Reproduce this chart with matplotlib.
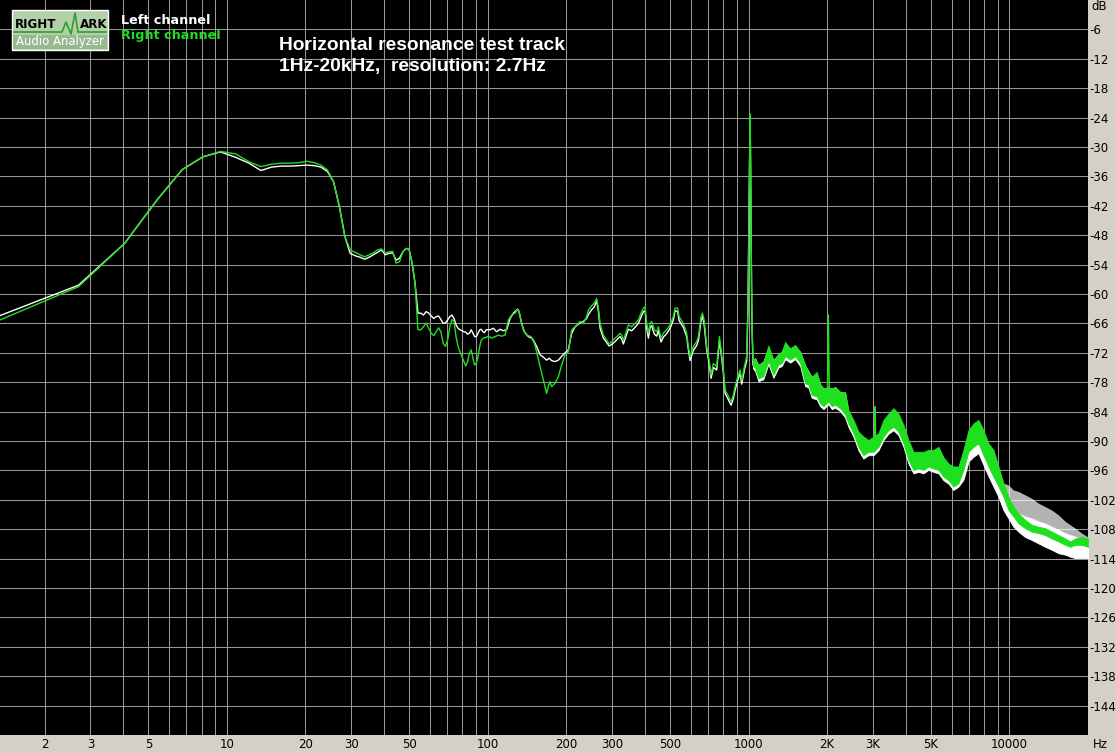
import matplotlib
matplotlib.use("Agg")
import matplotlib.pyplot as plt
from matplotlib.patches import Rectangle
from matplotlib.lines import Line2D

W, H = 1116, 753

# ---------------- data ----------------
left_freq = [1.35, 2.7, 4.05, 5.4, 6.75, 8.1, 9.45, 10.8, 12.15, 13.5, 14.85, 16.2, 17.55, 18.9,
             20.25, 21.6, 22.95, 24.3, 25.65, 27.0, 28.35, 29.7, 31.05, 32.4, 33.75, 35.1, 36.45,
             37.8, 39.15, 40.5, 41.85, 43.2, 44.55, 45.9, 47.25, 48.6, 49.95, 51.3, 52.65, 54.0,
             55.35, 56.7, 58.05, 59.4, 60.75, 62.1, 63.45, 64.8, 66.15, 67.5, 68.85, 70.2, 71.55,
             72.9, 74.25, 75.6, 76.95, 78.3, 79.65, 81.0, 82.35, 83.7, 85.05, 86.4, 87.75, 89.1,
             90.45, 91.8, 93.15, 94.5, 95.85, 97.2, 98.55, 102.0, 105.1, 108.2, 111.5, 114.8,
             118.2, 121.8, 125.4, 130.2, 131.8, 134.9, 138.1, 143.1, 147.3, 149.5, 154.0, 158.7,
             163.4, 168.2, 171.8, 175.8, 181.1, 186.5, 192.0, 197.9, 203.7, 209.8, 216.1, 225.9,
             232.6, 239.4, 243.1, 250.3, 256.3, 261.6, 265.6, 269.6, 277.5, 285.7, 291.8, 298.6,
             307.7, 316.8, 321.6, 326.2, 331.1, 338.0, 346.0, 356.3, 367.1, 377.9, 387.0, 395.0,
             401.0, 406.7, 412.9, 419.1, 425.1, 435.3, 444.2, 450.9, 461.8, 471.2, 485.1, 500.0,
             514.7, 522.5, 534.6, 541.3, 562.3, 578.9, 587.7, 596.6, 614.2, 632.4, 642.0, 657.6,
             665.2, 675.2, 690.9, 705.7, 718.2, 732.8, 754.6, 772.9, 784.5, 800.6, 812.7, 831.6,
             856.9, 874.4, 887.6, 908.2, 927.6, 940.8, 963.5, 983.3, 995, 1003, 1008, 1013, 1018,
             1023, 1030, 1040]
left_db = [-64.4, -58.2, -49.7, -40.8, -34.6, -32.0, -31.0, -32.1, -33.3, -34.8, -34.1, -33.9, -33.9,
           -33.8, -33.7, -33.8, -34.1, -35.0, -37.1, -42.2, -48.3, -51.7, -52.2, -52.5, -52.9, -52.5,
           -52.0, -51.5, -51.0, -52.0, -51.7, -51.6, -53.1, -52.7, -51.4, -50.7, -50.9, -53.7, -57.8,
           -63.9, -63.9, -64.3, -63.6, -63.9, -64.5, -65.0, -64.6, -64.5, -65.2, -66.0, -65.9, -65.3,
           -64.6, -64.3, -65.0, -66.3, -67.0, -67.3, -67.5, -67.7, -67.8, -68.2, -68.0, -67.3, -68.0,
           -68.7, -68.7, -68.0, -67.3, -67.2, -67.7, -67.9, -67.3, -67.3, -67.0, -67.7, -67.2, -67.5,
           -67.3, -65.0, -63.9, -63.1, -63.6, -66.0, -67.7, -68.7, -69.0, -69.4, -70.7, -72.4, -72.9,
           -73.5, -73.1, -73.6, -73.8, -73.5, -72.7, -72.0, -71.4, -68.0, -66.7, -65.9, -65.6, -65.0,
           -64.2, -63.2, -62.6, -61.4, -63.5, -67.0, -69.0, -69.9, -70.6, -70.3, -69.7, -69.0, -68.7,
           -69.2, -70.2, -68.8, -67.2, -67.5, -66.8, -66.0, -64.7, -63.6, -63.4, -66.9, -69.0, -66.8,
           -66.5, -68.2, -68.6, -67.5, -69.8, -68.8, -68.1, -67.0, -65.3, -63.4, -63.6, -65.4, -66.8,
           -68.7, -71.4, -73.6, -71.5, -70.5, -69.5, -65.3, -64.6, -66.2, -71.4, -74.2, -77.2, -75.0,
           -75.5, -69.5, -72.1, -76.2, -80.3, -81.3, -82.7, -81.3, -79.6, -77.6, -76.2, -78.4, -75.5,
           -73.6, -62.0, -45.0, -34.0, -23.5, -34.0, -50.0, -66.0, -74.5]

right_freq = [1.35, 2.7, 4.05, 5.4, 6.75, 8.1, 9.45, 10.8, 12.15, 13.5, 14.85, 16.2, 17.55, 18.9,
              20.25, 21.6, 22.95, 24.3, 25.65, 27.0, 28.35, 29.7, 31.05, 32.4, 33.75, 35.1, 36.45,
              37.8, 39.15, 40.5, 41.85, 43.2, 44.55, 45.9, 47.25, 48.6, 49.95, 51.3, 52.65, 54.0,
              55.35, 56.7, 58.05, 59.4, 60.75, 62.1, 63.45, 64.8, 66.15, 67.5, 68.85, 70.2, 71.55,
              72.9, 74.25, 75.6, 76.95, 78.3, 79.65, 81.0, 82.35, 83.7, 85.05, 86.4, 87.75, 89.1,
              90.45, 91.8, 93.15, 94.5, 95.85, 97.2, 98.55, 100.5, 103.5, 106.7, 109.8, 113.1,
              116.5, 120.0, 123.5, 127.3, 130.2, 131.8, 134.9, 136.9, 141.0, 146.6, 150.9, 154.0,
              158.7, 163.4, 168.2, 170.7, 173.2, 175.8, 181.1, 186.5, 192.0, 197.9, 203.7, 209.8,
              216.1, 225.9, 232.6, 239.4, 243.1, 250.3, 256.3, 261.6, 265.6, 269.6, 277.5, 285.7,
              291.8, 298.6, 307.7, 316.8, 321.6, 326.2, 331.1, 338.0, 346.0, 356.3, 367.1, 377.9,
              387.0, 395.0, 401.0, 406.7, 412.9, 419.1, 425.1, 435.3, 444.2, 450.9, 461.8, 471.2,
              485.1, 500.0, 514.7, 522.5, 534.6, 541.3, 562.3, 578.9, 587.7, 596.6, 614.2, 632.4,
              642.0, 657.6, 665.2, 675.2, 690.9, 705.7, 718.2, 732.8, 754.6, 772.9, 784.5, 800.6,
              812.7, 831.6, 856.9, 874.4, 887.6, 908.2, 927.6, 940.8, 963.5, 983.3, 995, 1003, 1008,
              1013, 1018, 1023, 1030, 1040]
right_db = [-65.3, -58.5, -49.7, -40.8, -34.6, -32.0, -30.9, -31.4, -33.0, -34.0, -33.5, -33.3, -33.3,
            -33.2, -32.9, -33.2, -33.7, -34.7, -37.1, -42.2, -48.3, -51.0, -51.5, -52.0, -52.4, -52.0,
            -51.6, -51.0, -50.8, -51.6, -51.4, -51.3, -53.7, -53.4, -51.4, -50.7, -50.9, -53.7, -57.8,
            -67.3, -67.3, -66.7, -65.9, -67.0, -68.0, -68.5, -67.7, -66.9, -67.7, -70.1, -70.7, -69.4,
            -66.7, -65.2, -65.6, -68.7, -70.7, -71.8, -72.8, -73.8, -74.7, -73.8, -72.1, -71.4, -73.1,
            -74.5, -74.1, -72.8, -70.7, -69.4, -69.1, -68.9, -68.9, -68.6, -69.0, -68.7, -68.4, -68.6,
            -68.4, -65.3, -64.3, -63.9, -63.1, -63.6, -66.0, -67.3, -68.4, -68.7, -70.1, -71.8, -74.8,
            -77.6, -80.3, -78.9, -77.9, -78.9, -78.2, -76.9, -74.5, -72.4, -71.8, -67.3, -66.7, -65.6,
            -66.0, -64.6, -63.3, -62.4, -61.8, -60.9, -62.9, -66.0, -68.4, -69.4, -70.2, -69.7, -69.0,
            -68.4, -68.0, -68.4, -69.4, -68.0, -66.3, -66.7, -66.0, -65.3, -63.9, -62.9, -62.6, -66.0,
            -68.0, -66.0, -65.6, -67.3, -67.7, -66.7, -69.0, -68.0, -67.3, -66.3, -64.6, -62.9, -62.9,
            -64.6, -66.0, -68.0, -70.7, -72.8, -70.7, -69.7, -68.7, -64.6, -63.9, -65.3, -70.7, -73.5,
            -76.5, -74.2, -74.8, -68.7, -71.4, -75.5, -79.6, -80.6, -82.0, -80.6, -78.9, -76.9, -75.5,
            -77.6, -74.8, -72.8, -62.0, -45.0, -34.0, -23.3, -34.0, -50.0, -66.0, -73.5]

# noisy high-frequency part: envelopes of the scattered trace
band_freq = [1040, 1059, 1090, 1139, 1191, 1245, 1301, 1340, 1380, 1443, 1508, 1576, 1647, 1696,
             1746, 1825, 1880, 1936, 2023, 2083, 2146, 2243, 2344, 2413, 2522, 2636, 2755, 2880,
             3010, 3146, 3288, 3436, 3592, 3753, 3923, 4100, 4284, 4478, 4680, 4891, 5111, 5343,
             5583, 5835, 6099, 6374, 6661, 6962, 7278, 7605, 7949, 8308, 8683, 9075, 9484, 9913,
             10359, 10828, 11486, 12175, 12921, 13711, 14533, 15416, 16357, 17088, 17865, 18933,
             20000]
right_upper = [-73.4, -73.2, -74.5, -73.9, -70.5, -73.5, -72.2, -71.8, -69.8, -71.1, -70.4, -71.8,
               -74.5, -75.9, -76.9, -75.9, -78.3, -79.3, -79.0, -79.3, -79.0, -80.0, -80.0, -83.7,
               -85.7, -88.1, -89.1, -89.8, -89.1, -88.4, -85.7, -84.4, -83.3, -84.4, -86.7, -89.8,
               -92.2, -92.2, -92.2, -91.8, -91.8, -91.2, -93.3, -94.6, -95.2, -95.2, -91.8, -87.8,
               -86.4, -85.7, -87.8, -90.5, -91.8, -95.2, -98.6, -101.4, -103.4, -104.8, -106.1,
               -107.1, -107.5, -107.8, -108.5, -109.2, -109.9, -110.5, -109.9, -109.6, -109.9]
right_lower = [-74.6, -75.1, -77.2, -76.8, -73.7, -76.5, -74.4, -74.1, -72.7, -73.4, -72.7, -74.1,
               -78.2, -78.5, -80.6, -80.9, -82.3, -82.9, -81.9, -82.9, -82.6, -83.3, -84.6, -86.4,
               -88.4, -91.2, -92.9, -92.2, -92.2, -91.2, -89.1, -87.8, -87.1, -88.1, -90.5, -93.9,
               -95.9, -95.6, -95.9, -95.2, -95.6, -95.9, -97.3, -98.0, -99.3, -98.6, -95.9, -92.2,
               -91.2, -90.5, -92.9, -95.2, -97.3, -99.3, -101.4, -104.1, -105.4, -106.8, -107.8,
               -108.5, -108.8, -109.2, -109.9, -110.5, -111.2, -111.6, -111.2, -111.2, -111.6]
left_upper = [-73.5, -73.1, -74.5, -73.8, -71.0, -73.5, -72.3, -71.8, -70.2, -71.1, -70.6, -71.8,
              -74.6, -75.8, -77.0, -76.5, -78.5, -79.3, -79.1, -79.3, -79.0, -80.0, -80.2, -84.0,
              -86.2, -88.4, -89.6, -90.2, -89.6, -88.8, -86.3, -85.5, -85.0, -86.0, -88.0, -91.0,
              -93.0, -92.9, -93.0, -92.9, -92.6, -92.5, -94.3, -95.5, -96.0, -95.9, -93.3, -90.5,
              -89.5, -89.1, -90.5, -93.0, -95.0, -97.6, -100.0, -102.0, -104.1, -104.8, -105.4,
              -105.8, -106.4, -106.8, -107.5, -108.1, -108.8, -109.2, -109.5, -110.2, -110.5]
left_lower = [-75.2, -75.7, -77.8, -77.4, -74.3, -77.1, -75.0, -74.7, -73.3, -74.0, -73.3, -74.7,
              -78.8, -79.1, -81.2, -81.5, -82.9, -83.5, -82.5, -83.5, -83.2, -83.9, -85.2, -87.1,
              -89.1, -91.9, -93.6, -92.9, -92.9, -91.9, -89.8, -88.5, -87.8, -88.8, -91.2, -94.6,
              -96.6, -96.3, -96.6, -95.9, -96.3, -96.6, -98.0, -98.7, -100.0, -99.3, -97.9, -94.2,
              -93.2, -92.5, -94.9, -97.2, -99.3, -101.4, -104.1, -105.8, -107.5, -108.5, -109.6,
              -110.2, -110.9, -111.6, -112.2, -112.9, -113.2, -113.6, -113.9, -113.9, -113.9]

# sparse upward spikes of the left channel above 9 kHz
left_spike_freq = [9075, 9484, 9913, 10359, 10828, 11486, 12175, 12921, 13711, 14533, 15416,
                   16357, 17088, 17865, 18933, 20000]
left_spike_top = [-96.5, -98.6, -99.0, -100.0, -100.3, -101.0, -101.7, -102.7, -103.4, -104.1,
                  -105.1, -106.4, -107.1, -107.8, -108.8, -109.6]
left_spike_base = [-97.6, -100.0, -102.0, -104.1, -104.8, -105.4, -105.8, -106.4, -106.8, -107.5,
                   -108.1, -108.8, -109.2, -109.5, -110.2, -110.5]

# harmonic spikes (right channel)
spike2_freq = [2005, 2022, 2040]
spike2_db = [-80.0, -64.3, -80.0]
spike3_freq = [3040, 3054, 3068]
spike3_db = [-89.0, -83.0, -89.0]

x_label_freqs = [2, 3, 5, 10, 20, 30, 50, 100, 200, 300, 500, 1000, 2000, 3000, 5000, 10000]
x_labels = ["2", "3", "5", "10", "20", "30", "50", "100", "200", "300", "500", "1000",
            "2K", "3K", "5K", "10000"]
x_grid_minor = [4, 6, 7, 8, 9, 40, 60, 70, 80, 90, 400, 600, 700, 800, 900,
                4000, 6000, 7000, 8000, 9000]
y_ticks = list(range(-6, -150, -6))

# ---------------- figure ----------------
BG = "#D4D0C8"
GREEN = "#1FE01F"
GRID = "#999999"

fig = plt.figure(figsize=(W / 100, H / 100), dpi=100, facecolor=BG)
ax = fig.add_axes([0, 18 / H, 1088 / W, 735 / H])
ax.set_facecolor("black")
ax.set_xscale("log")
ax.set_xlim(1.35, 20000)
ax.set_ylim(-150, 0)
for s in ax.spines.values():
    s.set_visible(False)

ax.set_xticks(x_label_freqs)
ax.set_xticklabels(x_labels)
ax.set_xticks(x_grid_minor, minor=True)
ax.xaxis.set_minor_formatter(matplotlib.ticker.NullFormatter())
ax.set_yticks(y_ticks)
ax.set_yticklabels([str(v) for v in y_ticks])
ax.yaxis.tick_right()
ax.tick_params(axis="both", which="both", length=0, labelsize=8.5, labelcolor="black")
ax.tick_params(axis="x", pad=2)
ax.tick_params(axis="y", pad=1)
for lab in ax.get_xticklabels() + ax.get_yticklabels():
    lab.set_fontfamily("DejaVu Sans")
ax.grid(True, which="both", axis="x", color=GRID, linewidth=0.75)
ax.grid(True, which="major", axis="y", color=GRID, linewidth=0.75)
ax.set_axisbelow(True)

# left channel (white)
ax.fill_between(left_spike_freq, left_spike_top, left_spike_base, color="white", alpha=0.7,
                linewidth=0, zorder=2)
ax.fill_between(band_freq, left_upper, left_lower, color="white", linewidth=0.6,
                edgecolor="white", zorder=2)
ax.plot(left_freq, left_db, color="white", linewidth=1.0, zorder=3)
# right channel (green)
ax.fill_between(band_freq, right_upper, right_lower, color=GREEN, linewidth=0.6,
                edgecolor=GREEN, zorder=4)
ax.plot(right_freq, right_db, color=GREEN, linewidth=1.0, zorder=5)
ax.plot(spike2_freq, spike2_db, color=GREEN, linewidth=1.0, zorder=5)
ax.plot(spike3_freq, spike3_db, color=GREEN, linewidth=1.0, zorder=5)


def P(x, y):
    return x / W, 1 - y / H


# axis unit labels
fig.text(*P(1091, 7), "dB", fontsize=8.5, family="DejaVu Sans", va="center", ha="left")
fig.text(*P(1093, 745), "Hz", fontsize=8.5, family="DejaVu Sans", va="center", ha="left")

# title
fig.text(*P(279, 45), "Horizontal resonance test track", color="white", fontsize=13.9,
         weight="bold", family="Liberation Sans", va="center", ha="left")
fig.text(*P(279, 67), "1Hz-20kHz,  resolution: 2.7Hz", color="white", fontsize=13.9,
         weight="bold", family="Liberation Sans", va="center", ha="left")

# legend
fig.text(*P(121, 20), "Left channel", color="white", fontsize=9.2, weight="bold",
         family="DejaVu Sans", va="center", ha="left")
fig.text(*P(121, 36), "Right channel", color="#22DD22", fontsize=9.2, weight="bold",
         family="DejaVu Sans", va="center", ha="left")

# logo
x0, y0 = P(12, 50)
x1, y1 = P(108, 10)
fig.patches.append(Rectangle((x0, y0), x1 - x0, y1 - y0, transform=fig.transFigure,
                             facecolor="#B4D0AA", edgecolor="white", linewidth=1.0))
xa, ya = P(13, 49)
xb, yb = P(107, 35)
fig.patches.append(Rectangle((xa, ya), xb - xa, yb - ya, transform=fig.transFigure,
                             facecolor="#98B890", edgecolor="none"))
fig.text(*P(15, 25), "RIGHT", color="black", fontsize=8.6, weight="bold", family="DejaVu Sans",
         va="center", ha="left")
fig.text(*P(80, 25), "ARK", color="black", fontsize=8.6, weight="bold", family="DejaVu Sans",
         va="center", ha="left")
fig.text(*P(60, 42), "Audio Analyzer", color="white", fontsize=8.4,
         family="DejaVu Sans", va="center", ha="center")
lx = [14, 62, 66, 71, 75, 78, 106]
ly = [32, 32, 22, 34, 13, 32, 32]
fig.lines.append(Line2D([v / W for v in lx], [1 - v / H for v in ly], transform=fig.transFigure,
                        color="#2E9E2E", linewidth=1.2))

fig.savefig("out.png", dpi=100, facecolor=BG)
